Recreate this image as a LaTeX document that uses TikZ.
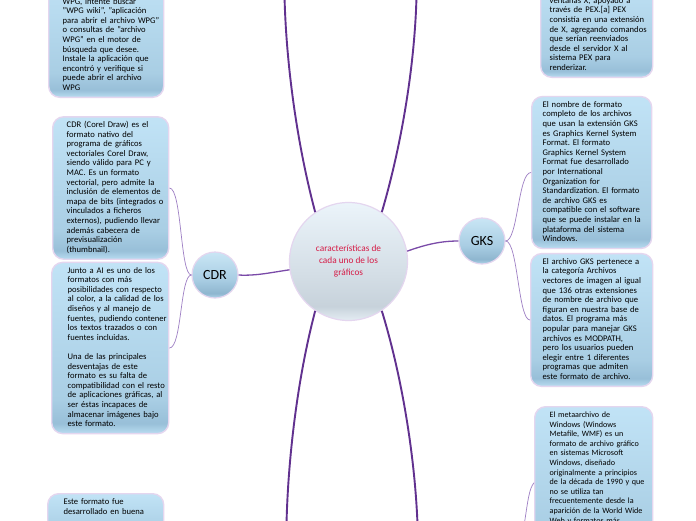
\documentclass[tikz,border=0pt]{standalone}
\usepackage{fontspec}
\setmainfont{Carlito}
\definecolor{bxtop}{HTML}{C1E3F6}
\definecolor{bxmid}{HTML}{A9CEE4}
\definecolor{bxdark}{HTML}{98BFD8}
\definecolor{bxbot}{HTML}{B9DDF1}
\definecolor{bxborder}{HTML}{E4D6EF}
\definecolor{tptop}{HTML}{C9E6F5}
\definecolor{tpmid}{HTML}{A9CDE3}
\definecolor{tpdark}{HTML}{8EB6CF}
\definecolor{tpbot}{HTML}{B4D7EB}
\definecolor{cetop}{HTML}{EBF4FA}
\definecolor{cemid}{HTML}{D4DEE6}
\definecolor{cedark}{HTML}{C7D2DB}
\definecolor{cebot}{HTML}{E4EDF3}
\definecolor{ctext}{HTML}{D51A45}
\definecolor{trunkc}{HTML}{61318F}
\definecolor{midc}{HTML}{7A4AA8}
\definecolor{branchc}{HTML}{9E7FC4}
\pgfdeclareverticalshading{boxsh}{100bp}{color(0bp)=(bxbot); color(25bp)=(bxbot); color(28bp)=(bxdark); color(35bp)=(bxmid); color(75bp)=(bxtop); color(100bp)=(bxtop)}
\pgfdeclareverticalshading{topsh}{100bp}{color(0bp)=(tpbot); color(25bp)=(tpbot); color(30bp)=(tpdark); color(45bp)=(tpmid); color(75bp)=(tptop); color(100bp)=(tptop)}
\pgfdeclareverticalshading{censh}{100bp}{color(0bp)=(cebot); color(25bp)=(cebot); color(31bp)=(cedark); color(45bp)=(cemid); color(75bp)=(cetop); color(100bp)=(cetop)}
\newcommand{\bt}[1]{\begin{tabular}{@{}l@{}}#1\end{tabular}}
\tikzset{
  txtbox/.style 2 args={draw=bxborder, line width=1.4pt, rounded corners=11pt,
    shading=boxsh, text width=#1, inner xsep=#2, inner ysep=4pt, align=left,
    font=\fontsize{8.6}{9.6}\selectfont, text=black},
  hub/.style={circle, draw=bxborder, line width=1.2pt, shading=censh, inner sep=0pt,
    minimum size=118pt, align=center, text=ctext, font=\fontsize{9.3}{12}\selectfont},
  topic/.style={circle, draw=bxborder, line width=1.2pt, shading=topsh, inner sep=0pt,
    minimum size=46pt, font=\fontsize{14}{16}\selectfont, text=black},
  trunk/.style={draw=trunkc, line width=1.9pt},
  midline/.style={draw=midc, line width=1.3pt},
  branch/.style={draw=branchc, line width=0.7pt},
}
\begin{document}
\frenchspacing
\begin{tikzpicture}[x=1pt,y=-1pt]
\useasboundingbox (0,0) rectangle (696,520);
\clip (0,0) rectangle (696,520);
\fill[white] (0,0) rectangle (696,520);

% central and topic nodes
\node[hub] (c) at (348.5,261.5) {características de\\cada uno de los\\gráficos};
\node[topic] (cdr) at (215,275) {CDR};
\node[topic] (gks) at (482,241) {GKS};

% left boxes
\node[txtbox={87pt}{14pt}, anchor=south west] (wpg) at (48,98) {\bt{\\ \\WPG, intente buscar\\"WPG wiki", "aplicación\\para abrir el archivo WPG"\\o consultas de "archivo\\WPG" en el motor de\\búsqueda que desee.\\Instale la aplicación que\\encontró y verifique si\\puede abrir el archivo\\WPG}};
\node[txtbox={88pt}{14pt}, anchor=west, minimum height=140pt] (cdra) at (52,188) {\bt{CDR (Corel Draw) es el\\formato nativo del\\programa de gráficos\\vectoriales Corel Draw,\\siendo válido para PC y\\MAC. Es un formato\\vectorial, pero admite la\\inclusión de elementos de\\mapa de bits (integrados o\\vinculados a ficheros\\externos), pudiendo llevar\\además cabecera de\\previsualización\\(thumbnail).}};
\node[txtbox={85pt}{16pt}, anchor=west, minimum height=170pt] (cdrb) at (51,348) {\bt{Junto a AI es uno de los\\formatos con más\\posibilidades con respecto\\al color, a la calidad de los\\diseños y al manejo de\\fuentes, pudiendo contener\\los textos trazados o con\\fuentes incluidas.\\ \\Una de las principales\\desventajas de este\\formato es su falta de\\compatibilidad con el resto\\de aplicaciones gráficas, al\\ser éstas incapaces de\\almacenar imágenes bajo\\este formato.}};
\node[txtbox={84pt}{16pt}, anchor=north west] (este) at (47,493) {\bt{Este formato fue\\desarrollado en buena\\ \\ \\ }};

% right boxes
\node[txtbox={94pt}{9pt}, anchor=south west] (pex) at (540,78) {\bt{\\ \\ventanas X, apoyado a\\través de PEX.[a] PEX\\consistía en una extensión\\de X, agregando comandos\\que serían reenviados\\desde el servidor X al\\sistema PEX para\\renderizar.}};
\node[txtbox={98pt}{11pt}, anchor=west, minimum height=149pt] (gksa) at (531,172.5) {\bt{El nombre de formato\\completo de los archivos\\que usan la extensión GKS\\es Graphics Kernel System\\Format. El formato\\Graphics Kernel System\\Format fue desarrollado\\por International\\Organization for\\Standardization. El formato\\de archivo GKS es\\compatible con el software\\que se puede instalar en la\\plataforma del sistema\\Windows.}};
\node[txtbox={98pt}{12pt}, anchor=west, minimum height=130pt] (gksb) at (530,320) {\bt{El archivo GKS pertenece a\\la categoría Archivos\\vectores de imagen al igual\\que 136 otras extensiones\\de nombre de archivo que\\figuran en nuestra base de\\datos. El programa más\\popular para manejar GKS\\archivos es MODPATH,\\pero los usuarios pueden\\elegir entre 1 diferentes\\programas que admiten\\este formato de archivo.}};
\node[txtbox={88pt}{15pt}, anchor=north west, font=\fontsize{8.1}{9.6}\selectfont] (wmf) at (534,406) {\bt{El metaarchivo de\\Windows (Windows\\Metafile, WMF) es un\\formato de archivo gráfico\\en sistemas Microsoft\\Windows, diseñado\\originalmente a principios\\de la década de 1990 y que\\no se utiliza tan\\frecuentemente desde la\\aparición de la World Wide\\Web y formatos más\\ \\ \\ \\ }};

% free ends of connectors
\coordinate (tl) at (284.5,-4);
\coordinate (tr) at (416.5,-4);
\coordinate (bl) at (286.5,524);
\coordinate (br) at (417.5,524);
\coordinate (wmfroot) at (524,526);

% trunks
\draw[trunk] (c.124) .. controls (296,140) and (286,60) .. (tl);
\draw[trunk] (c.56) .. controls (403,140) and (415,60) .. (tr);
\draw[trunk] (c.236) .. controls (297,380) and (288,460) .. (bl);
\draw[trunk] (c.304) .. controls (403,380) and (415,460) .. (br);

% centre to topics
\draw[midline] (c.188) .. controls (268,273) and (255,276) .. (cdr.east);
\draw[midline] (c.10) .. controls (427,244) and (442,241) .. (gks.west);

% branches
\draw[branch] (cdr.west) .. controls (180,275) and (182,188) .. (cdra.east);
\draw[branch] (cdr.west) .. controls (180,275) and (182,348) .. (cdrb.east);
\draw[branch] (gks.east) .. controls (518,241) and (518,172.5) .. (gksa.west);
\draw[branch] (gks.east) .. controls (518,241) and (518,320) .. (gksb.west);
\draw[branch] (wmfroot) .. controls (528,500) and (529,489) .. (wmf.west);
\end{tikzpicture}
\end{document}
